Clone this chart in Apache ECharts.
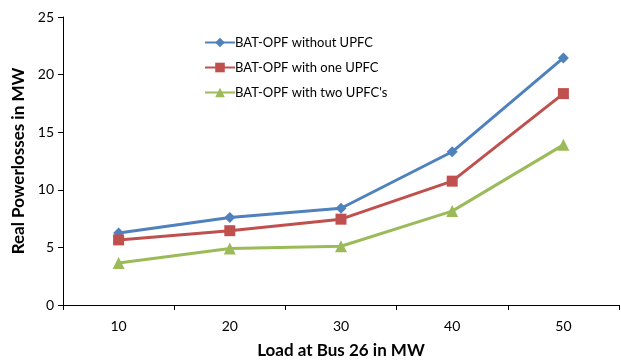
<!DOCTYPE html>
<html><head><meta charset="utf-8">
<script src="https://cdn.jsdelivr.net/npm/echarts@6/dist/echarts.min.js"></script>
<style>html,body{margin:0;padding:0;background:#fff}#c{width:621px;height:363px}</style>
</head><body><div id="c"></div>
<script>
const categories = ['10', '20', '30', '40', '50'];
const seriesNames = ['BAT-OPF without UPFC', 'BAT-OPF with one UPFC', "BAT-OPF with two UPFC's"];
const withoutUPFC = [6.25, 7.6, 8.4, 13.3, 21.45];
const oneUPFC = [5.65, 6.45, 7.45, 10.75, 18.35];
const twoUPFC = [3.65, 4.9, 5.1, 8.15, 13.9];
const yTicks = [0, 5, 10, 15, 20, 25];

const font = 'Lato, "Open Sans", sans-serif';
const chart = echarts.init(document.getElementById('c'));
const mk = (name, data, color, symbol, size) => ({
  name, type: 'line', data, symbol, symbolSize: size,
  lineStyle: {color, width: 3}, itemStyle: {color},
  animation: false
});
chart.setOption({
  animation: false,
  grid: {left: 63, right: 2, top: 17, bottom: 58, containLabel: false, outerBoundsMode: 'none'},
  legend: {
    orient: 'vertical', left: 199, top: 31, itemGap: 12,
    itemWidth: 30, itemHeight: 12,
    textStyle: {fontFamily: font, fontSize: 13, color: '#000', padding: [0,0,0,-5]},
    data: seriesNames
  },
  xAxis: {
    type: 'category', data: categories, boundaryGap: true,
    name: 'Load at Bus 26 in MW', nameLocation: 'middle', nameGap: 37,
    nameTextStyle: {fontFamily: font, fontSize: 17, fontWeight: 'bold', color: '#000'},
    axisLine: {lineStyle: {color: '#000', width: 1}},
    axisTick: {show: true, length: 5, lineStyle: {color: '#000'}},
    axisLabel: {fontFamily: font, fontSize: 14, color: '#000', margin: 14}
  },
  yAxis: {
    type: 'value', min: yTicks[0], max: yTicks[yTicks.length-1], interval: 5,
    name: 'Real Powerlosses in MW', nameLocation: 'middle', nameGap: 34,
    nameTextStyle: {fontFamily: font, fontSize: 17, fontWeight: 'bold', color: '#000'},
    axisLine: {show: true, lineStyle: {color: '#000', width: 1}},
    axisTick: {show: true, length: 5, lineStyle: {color: '#000'}},
    splitLine: {show: false},
    axisLabel: {fontFamily: font, fontSize: 14, color: '#000', margin: 9}
  },
  series: [
    mk(seriesNames[0], withoutUPFC, '#4F81BD', 'diamond', 11),
    mk(seriesNames[1], oneUPFC, '#C0504D', 'rect', 11),
    mk(seriesNames[2], twoUPFC, '#9BBB59', 'triangle', 12)
  ]
});
</script></body></html>
